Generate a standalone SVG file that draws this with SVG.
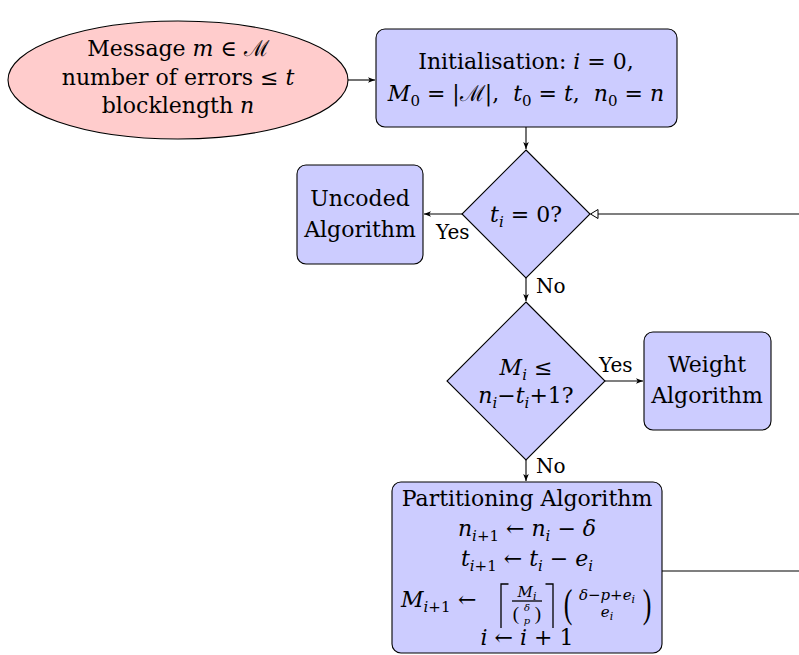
<svg xmlns="http://www.w3.org/2000/svg" width="799" height="655" viewBox="0 0 799 655">
<defs>
<style>
text{font-family:"DejaVu Serif","Liberation Serif",serif;font-size:22px;fill:#000}
.it{font-style:italic}
.sub{font-size:15px}
.sm{font-size:15px}
.lbl{font-size:20px}
.paren{font-family:"Liberation Serif",serif}
.box{fill:#CCCCFF;stroke:#000;stroke-width:1.1}
.start{fill:#FFCCCC;stroke:#000;stroke-width:1.1}
.conn{fill:none;stroke:#000;stroke-width:1.1}
.delim{fill:none;stroke:#000;stroke-width:1.3}
</style>
<marker id="arr" viewBox="0 0 10 10" refX="10" refY="5" markerWidth="7" markerHeight="7" markerUnits="userSpaceOnUse" orient="auto">
<path d="M0,1 L10,5 L0,9 L2.5,5 Z" fill="#000"/>
</marker>
</defs>

<g id="connectors">
<line class="conn" x1="347" y1="80" x2="375" y2="80" marker-end="url(#arr)"/>
<line class="conn" x1="526" y1="127" x2="526" y2="149" marker-end="url(#arr)"/>
<line class="conn" x1="462" y1="214" x2="424" y2="214" marker-end="url(#arr)"/>
<text class="lbl" x="436" y="239">Yes</text>
<line class="conn" x1="526" y1="278" x2="526" y2="301" marker-end="url(#arr)"/>
<text class="lbl" x="536" y="293">No</text>
<line class="conn" x1="605" y1="381" x2="643" y2="381" marker-end="url(#arr)"/>
<text class="lbl" x="599" y="372">Yes</text>
<line class="conn" x1="526" y1="460" x2="526" y2="481" marker-end="url(#arr)"/>
<text class="lbl" x="536" y="473">No</text>
<line class="conn" x1="662" y1="571" x2="799" y2="571"/>
<line class="conn" x1="799" y1="214" x2="591" y2="214"/>
<path d="M598,209.5 L590.5,214 L598,218.5 Z" fill="#fff" stroke="#000" stroke-width="1"/>
</g>

<g id="start">
<ellipse class="start" cx="178" cy="80" rx="170" ry="59"/>
<text x="178" y="56" text-anchor="middle">Message <tspan class="it">m</tspan> ∈ ℳ</text>
<text x="178" y="85" text-anchor="middle">number of errors ≤ <tspan class="it">t</tspan></text>
<text x="178" y="113" text-anchor="middle">blocklength <tspan class="it">n</tspan></text>
</g>

<g id="init">
<rect class="box" x="376" y="29" width="301" height="98" rx="9"/>
<text x="526" y="69" text-anchor="middle">Initialisation: <tspan class="it">i</tspan> = 0,</text>
<text x="526" y="101" text-anchor="middle"><tspan class="it">M</tspan><tspan class="sub" dy="5">0</tspan><tspan dy="-5"> = |ℳ|,&#160;&#160;</tspan><tspan class="it">t</tspan><tspan class="sub" dy="5">0</tspan><tspan dy="-5"> = </tspan><tspan class="it">t</tspan>,&#160;&#160;<tspan class="it">n</tspan><tspan class="sub" dy="5">0</tspan><tspan dy="-5"> = </tspan><tspan class="it">n</tspan></text>
</g>

<g id="decision-t">
<polygon class="box" points="526,150 590,214 526,278 462,214"/>
<text x="526" y="222" text-anchor="middle"><tspan class="it">t</tspan><tspan class="sub it" dy="5">i</tspan><tspan dy="-5"> = 0?</tspan></text>
</g>

<g id="uncoded">
<rect class="box" x="297" y="165" width="126" height="99" rx="9"/>
<text x="360" y="206" text-anchor="middle">Uncoded</text>
<text x="360" y="237" text-anchor="middle">Algorithm</text>
</g>

<g id="decision-m">
<polygon class="box" points="526,302 605,381 526,460 447,381"/>
<text x="526" y="375" text-anchor="middle"><tspan class="it">M</tspan><tspan class="sub it" dy="5">i</tspan><tspan dy="-5"> ≤</tspan></text>
<text x="526" y="403" text-anchor="middle"><tspan class="it">n</tspan><tspan class="sub it" dy="5">i</tspan><tspan dy="-5">−</tspan><tspan class="it">t</tspan><tspan class="sub it" dy="5">i</tspan><tspan dy="-5">+1?</tspan></text>
</g>

<g id="weight">
<rect class="box" x="644" y="332" width="127" height="98" rx="9"/>
<text x="707" y="372" text-anchor="middle">Weight</text>
<text x="707" y="403" text-anchor="middle">Algorithm</text>
</g>

<g id="partition">
<rect class="box" x="392" y="482" width="270" height="171" rx="9"/>
<text x="527" y="506" text-anchor="middle">Partitioning Algorithm</text>
<text x="527" y="536" text-anchor="middle"><tspan class="it">n</tspan><tspan class="sub" dy="5"><tspan class="it">i</tspan>+1</tspan><tspan dy="-5"> ← </tspan><tspan class="it">n</tspan><tspan class="sub it" dy="5">i</tspan><tspan dy="-5"> − </tspan><tspan class="it">δ</tspan></text>
<text x="527" y="566" text-anchor="middle"><tspan class="it">t</tspan><tspan class="sub" dy="5"><tspan class="it">i</tspan>+1</tspan><tspan dy="-5"> ← </tspan><tspan class="it">t</tspan><tspan class="sub it" dy="5">i</tspan><tspan dy="-5"> − </tspan><tspan class="it">e</tspan><tspan class="sub it" dy="5">i</tspan></text>
<text x="401" y="607"><tspan class="it">M</tspan><tspan class="sub" dy="5"><tspan class="it">i</tspan>+1</tspan></text>
<text x="458" y="607">←</text>
<path class="delim" d="M508.5,584 H501 V628"/>
<text x="527" y="597" text-anchor="middle" class="sm"><tspan class="it">M</tspan><tspan class="it" style="font-size:11px" dy="3">i</tspan></text>
<line x1="512" y1="601" x2="542" y2="601" stroke="#000" stroke-width="1.3"/>
<text x="516" y="620" text-anchor="middle" class="paren" style="font-size:19px">(</text>
<text x="538" y="620" text-anchor="middle" class="paren" style="font-size:19px">)</text>
<text x="527" y="611" text-anchor="middle" class="it" style="font-size:10px">δ</text>
<text x="527" y="624" text-anchor="middle" class="it" style="font-size:10px">p</text>
<path class="delim" d="M545.5,584 H553 V628"/>
<text transform="translate(568,617) scale(0.65,1)" text-anchor="middle" class="paren" style="font-size:40px">(</text>
<text transform="translate(647,617) scale(0.65,1)" text-anchor="middle" class="paren" style="font-size:40px">)</text>
<text x="607" y="600" text-anchor="middle" class="sm"><tspan class="it">δ</tspan>−<tspan class="it">p</tspan>+<tspan class="it">e</tspan><tspan class="it" style="font-size:11px" dy="3">i</tspan></text>
<text x="607" y="617" text-anchor="middle" class="sm"><tspan class="it">e</tspan><tspan class="it" style="font-size:11px" dy="3">i</tspan></text>
<text x="527" y="645" text-anchor="middle"><tspan class="it">i</tspan> ← <tspan class="it">i</tspan> + 1</text>
</g>
</svg>
